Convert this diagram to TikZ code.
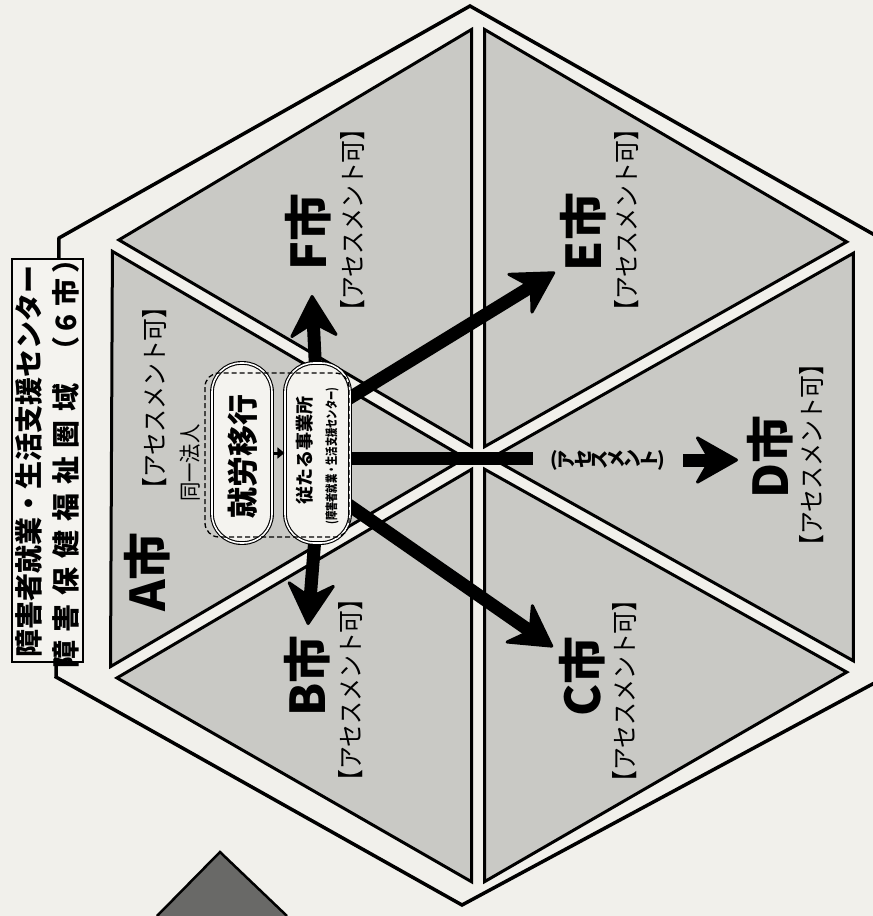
\documentclass[tikz,border=0pt]{standalone}
\usepackage{fontspec}
\newfontfamily\jp{Noto Sans CJK JP}
\newfontfamily\jpc{Noto Sans CJK JP}[FakeStretch=0.88]
\newfontfamily\jps{Noto Sans CJK JP}[FakeStretch=0.74]
\usetikzlibrary{arrows.meta,calc}
\definecolor{paper}{RGB}{241,240,235}
\definecolor{trigray}{RGB}{201,201,197}
\definecolor{boxfill}{RGB}{244,243,239}
\definecolor{darkshape}{RGB}{105,105,103}
\newcommand\rc[1]{\makebox[16.5pt][c]{\rotatebox[origin=c]{90}{#1}}}
\newcommand\hextri[2]{%
  \path (barycentric cs:O=1,#1=1,#2=1) coordinate (G);
  \draw[tri] ($(G)!0.948!(O)$) -- ($(G)!0.948!(#1)$) -- ($(G)!0.948!(#2)$) -- cycle;}
\tikzset{
  tri/.style={fill=trigray, draw=black, line width=3pt, line join=miter},
  city/.style={rotate=90, inner sep=0pt, font=\jp\bfseries\fontsize{48}{48}\selectfont},
  asm/.style={rotate=90, inner sep=0pt, font=\jpc\fontsize{26}{26}\selectfont},
  hdr/.style={rotate=90, inner sep=0pt, font=\jp\bfseries\fontsize{28}{28}\selectfont},
  bigarrow/.style={line width=13pt, -{Stealth[length=46pt,width=52pt,inset=15pt,round,line width=3pt]}},
  shaft/.style={line width=13pt},
  pill/.style={rotate=90, draw=black, line width=1.1pt, double=white, double distance=1.6pt,
    fill=boxfill, rounded corners=29pt, inner sep=0pt},
}
\begin{document}
\begin{tikzpicture}[x=1pt,y=-1pt]
\useasboundingbox[fill=paper] (0,0) rectangle (873,916);

% outer hexagon
\draw[line width=3.5pt, line join=miter] (470,6) -- (880,238) -- (880,680) -- (462,905) -- (56,677) -- (59,238) -- cycle;

% inner hexagon points
\coordinate (O) at (478,458);
\coordinate (VT) at (478,18);
\coordinate (VUR) at (860,242);
\coordinate (VLR) at (860,672);
\coordinate (VB) at (478,893);
\coordinate (VLL) at (104,678);
\coordinate (VUL) at (106,240);

\hextri{VT}{VUR}
\hextri{VUR}{VLR}
\hextri{VLR}{VB}
\hextri{VB}{VLL}
\hextri{VLL}{VUL}
\hextri{VUL}{VT}

% arrow start / end points
\coordinate (sF) at (318,420);
\coordinate (tF) at (312,295);
\coordinate (sB) at (318,500);
\coordinate (tB) at (308,625);
\coordinate (sE) at (330,410);
\coordinate (tE) at (555,272);
\coordinate (sC) at (330,492);
\coordinate (tC) at (553,647);
\coordinate (sD) at (330,458);
\coordinate (d1) at (533,458);
\coordinate (d2) at (683,460);
\coordinate (tD) at (738,460);

\draw[bigarrow] (sF) -- (tF);
\draw[bigarrow] (sB) -- (tB);
\draw[bigarrow] (sE) -- (tE);
\draw[bigarrow] (sC) -- (tC);
\draw[shaft] (sD) -- (d1);
\draw[bigarrow] (d2) -- (tD);
\node[inner sep=0pt, font=\jp\bfseries\fontsize{19}{19}\selectfont] (dl) at (608,460)
  {(\rc{ア}\rc{セ}\rc{ス}\rc{メ}\rc{ン}\rc{ト})};

% boxes
\node[pill, minimum width=180pt, minimum height=60pt] (b1) at (242,453) {};
\node[pill, minimum width=180pt, minimum height=65pt] (b2) at (317.5,453) {};
\draw[line width=3pt, -{Triangle[length=7pt,width=11pt]}] (b1.south) -- (b2.north);
\draw[line width=1.3pt, dash pattern=on 5pt off 3pt, rounded corners=14pt] (205,373) rectangle (349,537);

\node[rotate=90, inner sep=0pt, font=\jp\bfseries\fontsize{31}{31}\selectfont] (t1) at (243,456) {就労移行};
\node[rotate=90, inner sep=0pt, font=\jp\bfseries\fontsize{18}{18}\selectfont] (t2) at (305,450) {従たる事業所};
\node[rotate=90, inner sep=0pt, font=\jps\bfseries\fontsize{12.5}{12.5}\selectfont] (t3) at (332,456) {(障害者就業・生活支援センター)};
\node[rotate=90, inner sep=0pt, font=\jpc\fontsize{22}{22}\selectfont] (same) at (190,463) {同一法人};

% city labels
\node[city] (A) at (147,572) {A市};
\node[asm] (Aa) at (155,398) {【アセスメント可】};
\node[city] (F) at (308,232) {F市};
\node[asm] (Fa) at (353,220) {【アセスメント可】};
\node[city] (E) at (583,232) {E市};
\node[asm] (Ea) at (627,220) {【アセスメント可】};
\node[city] (D) at (770,457) {D市};
\node[asm] (Da) at (812,455) {【アセスメント可】};
\node[city] (C) at (582,676) {C市};
\node[asm] (Ca) at (625,691) {【アセスメント可】};
\node[city] (B) at (307,676) {B市};
\node[asm] (Ba) at (351,690) {【アセスメント可】};

% header box
\node[rotate=90, draw=black, line width=1.6pt, fill=boxfill, minimum width=403pt, minimum height=71pt, inner sep=0pt] (hb) at (47.5,460.5) {};
\node[hdr] (h1) at (29,461) {障害者就業・生活支援センター};
\node[hdr, anchor=west] (h2) at (66,669) {障\hspace{8.8pt}害\hspace{8.8pt}保\hspace{8.8pt}健\hspace{8.8pt}福\hspace{8.8pt}祉\hspace{8.8pt}圏\hspace{8.8pt}域};
\node[hdr] (h3) at (66,305) {（\hspace{5pt}6\hspace{7pt}市\hspace{5pt}）};

% dark shape at bottom
\fill[darkshape] (157,916) -- (220,852) -- (287,916) -- cycle;
\draw[line width=2.5pt, line join=miter] (157,916) -- (220,852) -- (287,916);
\end{tikzpicture}
\end{document}
